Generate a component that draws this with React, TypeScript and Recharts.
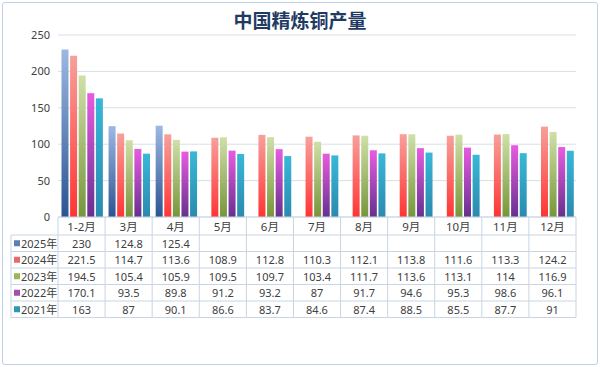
import { BarChart, Bar, XAxis, YAxis, CartesianGrid } from "recharts";

const months = ["1-2月", "3月", "4月", "5月", "6月", "7月", "8月", "9月", "10月", "11月", "12月"];
const v2025 = [230, 124.8, 125.4, null, null, null, null, null, null, null, null];
const v2024 = [221.5, 114.7, 113.6, 108.9, 112.8, 110.3, 112.1, 113.8, 111.6, 113.3, 124.2];
const v2023 = [194.5, 105.4, 105.9, 109.5, 109.7, 103.4, 111.7, 113.6, 113.1, 114, 116.9];
const v2022 = [170.1, 93.5, 89.8, 91.2, 93.2, 87, 91.7, 94.6, 95.3, 98.6, 96.1];
const v2021 = [163, 87, 90.1, 86.6, 83.7, 84.6, 87.4, 88.5, 85.5, 87.7, 91];
const yTicks = [0, 50, 100, 150, 200, 250];

const series = [
  { key: "y2025", label: "2025年", values: v2025, top: "#9db8e2", bottom: "#2b5492", swatch: "#5b80b4" },
  { key: "y2024", label: "2024年", values: v2024, top: "#f7a09a", bottom: "#ff3434", swatch: "#e86a6a" },
  { key: "y2023", label: "2023年", values: v2023, top: "#cfe0a8", bottom: "#76963a", swatch: "#9bb55a" },
  { key: "y2022", label: "2022年", values: v2022, top: "#e85ce0", bottom: "#66308e", swatch: "#a64cae" },
  { key: "y2021", label: "2021年", values: v2021, top: "#38b8d8", bottom: "#2a8aae", swatch: "#2f98b4" },
];

const data = months.map((m, i) => {
  const row: any = { month: m };
  series.forEach((s) => (row[s.key] = s.values[i]));
  return row;
});

const W = 600;
const H = 367;
const PLOT_LEFT = 58;
const PLOT_RIGHT = 576;
const COL_W = (PLOT_RIGHT - PLOT_LEFT) / months.length;
const HEAD_H = 18;
const ROW_H = 16.5;
const TABLE_LEFT = 11;
const LINE = "#c9d5e4";
const TEXT = "#404040";
const FONT = "'Noto Sans', 'Noto Sans CJK SC', sans-serif";

// x-axis tick draws the header cell plus the data-table column under it
const TableTick = (props: any) => {
  const { x, y, payload, index } = props;
  const i = index ?? payload.index;
  const left = x - COL_W / 2;
  const bottom = y + HEAD_H + ROW_H * series.length;
  const rowLines = series.map((_, k) => y + HEAD_H + k * ROW_H).concat([bottom]);
  return (
    <g>
      <text x={x} y={y + HEAD_H / 2} textAnchor="middle" dominantBaseline="central" fontSize={11.5} fill={TEXT} fontFamily={FONT}>
        {payload.value}
      </text>
      <line x1={left} x2={left} y1={y} y2={bottom} stroke={LINE} />
      {i === months.length - 1 && <line x1={left + COL_W} x2={left + COL_W} y1={y} y2={bottom} stroke={LINE} />}
      {rowLines.map((ly, k) => (
        <line key={k} x1={i === 0 ? TABLE_LEFT : left} x2={left + COL_W} y1={ly} y2={ly} stroke={LINE} />
      ))}
      {series.map((s, k) => {
        const v = s.values[i];
        return v == null ? null : (
          <text key={s.key} x={x} y={y + HEAD_H + k * ROW_H + ROW_H / 2} textAnchor="middle" dominantBaseline="central" fontSize={11} fill={TEXT} fontFamily={FONT}>
            {v}
          </text>
        );
      })}
      {i === 0 && (
        <g>
          <line x1={TABLE_LEFT} x2={TABLE_LEFT} y1={y + HEAD_H} y2={bottom} stroke={LINE} />
          {series.map((s, k) => {
            const cy = y + HEAD_H + k * ROW_H + ROW_H / 2;
            return (
              <g key={s.key}>
                <rect x={14} y={cy - 3} width={6} height={6} fill={s.swatch} />
                <text x={21} y={cy} dominantBaseline="central" fontSize={11} fill={TEXT} fontFamily={FONT}>
                  {s.label}
                </text>
              </g>
            );
          })}
        </g>
      )}
    </g>
  );
};

export default function App() {
  return (
    <div style={{ position: "absolute", left: 0, top: 0, width: W, height: H, background: "#fff", fontFamily: FONT }}>
      <div
        style={{
          position: "absolute",
          left: 2,
          top: 2,
          width: W - 6,
          height: H - 6,
          border: "1px solid #bcd0e8",
          borderRadius: 3,
        }}
      />
      <div
        style={{
          position: "absolute",
          left: 0,
          top: 7,
          width: W,
          textAlign: "center",
          fontSize: 19,
          fontWeight: 700,
          color: "#1f3b64",
          fontFamily: "'Noto Sans CJK SC', sans-serif",
          lineHeight: "26px",
        }}
      >
        中国精炼铜产量
      </div>
      <div style={{ position: "absolute", left: 0, top: 0 }}>
        <BarChart
          width={W}
          height={H}
          data={data}
          margin={{ top: 35, right: W - PLOT_RIGHT, left: 0, bottom: 0 }}
          barCategoryGap="7.4%"
          barGap={1.6}
        >
          <defs>
            {series.map((s) => (
              <linearGradient key={s.key} id={`grad-${s.key}`} x1="0" y1="0" x2="0" y2="1">
                <stop offset="0%" stopColor={s.top} />
                <stop offset="100%" stopColor={s.bottom} />
              </linearGradient>
            ))}
          </defs>
          <CartesianGrid vertical={false} stroke="#d8dee8" />
          <XAxis
            dataKey="month"
            height={H - 35 - 182}
            axisLine={{ stroke: LINE }}
            tickLine={false}
            tickSize={0}
            tickMargin={0}
            interval={0}
            tick={<TableTick />}
          />
          <YAxis
            width={PLOT_LEFT}
            domain={[0, 250]}
            ticks={yTicks}
            axisLine={false}
            tickLine={false}
            tick={{ fontSize: 11, fill: TEXT, fontFamily: FONT }}
          />
          {series.map((s) => (
            <Bar key={s.key} dataKey={s.key} fill={`url(#grad-${s.key})`} isAnimationActive={false} />
          ))}
        </BarChart>
      </div>
    </div>
  );
}
